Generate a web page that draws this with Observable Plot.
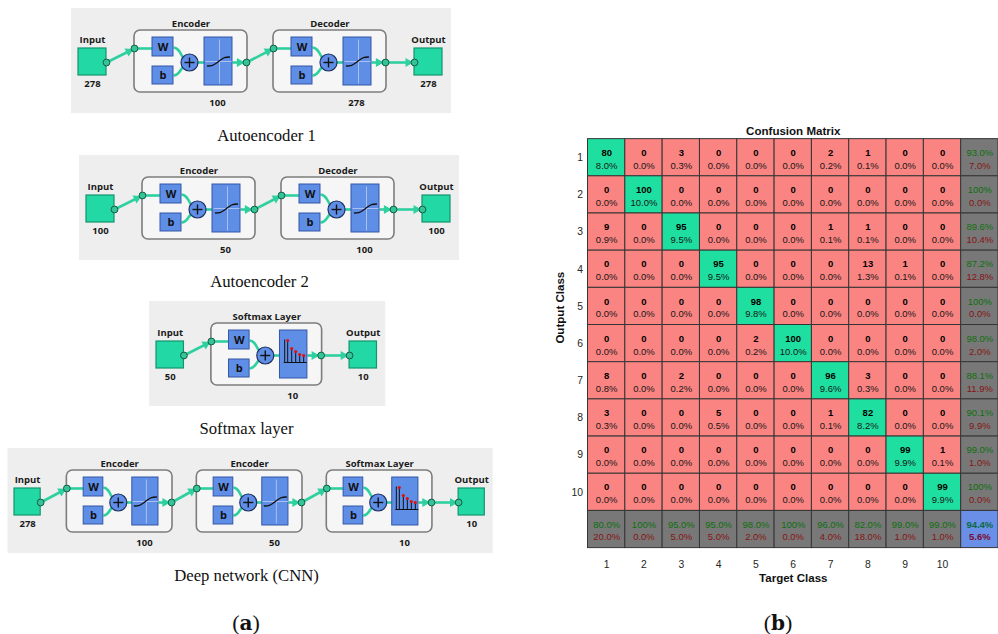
<!DOCTYPE html>
<html>
<head>
<meta charset="utf-8">
<script src="https://cdn.jsdelivr.net/npm/d3@7"></script>
<script src="https://cdn.jsdelivr.net/npm/@observablehq/plot@0.6"></script>
<style>
  html, body { margin: 0; padding: 0; background: #fff; }
  #page { position: relative; width: 998px; height: 634px; overflow: hidden; background: #fff; }
  #nets { position: absolute; left: 0; top: 0; }
  #cm { position: absolute; left: 548px; top: 109px; }
  .tag { position: absolute; top: 608px; width: 60px; margin-left: -30px; text-align: center;
         font: 22px "Liberation Serif", "Times New Roman", serif; line-height: 30px; color: #111; }
  .tag b { font-family: "DejaVu Serif", "Liberation Serif", serif; font-size: 20px; }
</style>
</head>
<body>
<div id="page">
  <div id="nets"></div>
  <div id="cm"></div>
  <div class="tag" style="left:246px">(<b>a</b>)</div>
  <div class="tag" style="left:778px">(<b>b</b>)</div>
</div>
<script>
// ---- Network diagrams: one entry per diagram ----
const captions = ["Autoencoder 1", "Autoencoder 2", "Softmax layer", "Deep network (CNN)"];
const inputSizes = [278, 100, 50, 278];
const layerNames = [["Encoder", "Decoder"], ["Encoder", "Decoder"], ["Softmax Layer"], ["Encoder", "Encoder", "Softmax Layer"]];
const layerSizes = [[100, 278], [50, 100], [10], [100, 50, 10]];
const outputSizes = [278, 100, 10, 10];

// ---- Confusion matrix: rows = output class, columns = target class ----
const classes = ["1", "2", "3", "4", "5", "6", "7", "8", "9", "10"];
const counts = [
  [80, 0, 3, 0, 0, 0, 2, 1, 0, 0],
  [0, 100, 0, 0, 0, 0, 0, 0, 0, 0],
  [9, 0, 95, 0, 0, 0, 1, 1, 0, 0],
  [0, 0, 0, 95, 0, 0, 0, 13, 1, 0],
  [0, 0, 0, 0, 98, 0, 0, 0, 0, 0],
  [0, 0, 0, 0, 2, 100, 0, 0, 0, 0],
  [8, 0, 2, 0, 0, 0, 96, 3, 0, 0],
  [3, 0, 0, 5, 0, 0, 1, 82, 0, 0],
  [0, 0, 0, 0, 0, 0, 0, 0, 99, 1],
  [0, 0, 0, 0, 0, 0, 0, 0, 0, 99]
];

// ---------------------------------------------------------------
// Diagram layout (pixels): input block left edge, layer box top, horizontal scale, caption centre
const frames = [
  {left: 78, top: 30, sx: 1, capX: 266, capY: 135},
  {left: 86, top: 177, sx: 1, capX: 259, capY: 281},
  {left: 156, top: 323, sx: 0.98, capX: 246, capY: 428},
  {left: 14, top: 470, sx: 0.935, capX: 246, capY: 575}
];
const STEP = 139, BOX_W = 113, BOX_H = 62, BLOCK = 28;
const sigmoidShape = [[-11, 4.5], [-6, 3.8], [-2, 1.5], [2, -1.5], [6, -3.8], [11, -4.5]];
const stemTops = [[-6, -14], [-2, -6], [2, -3], [6, 0], [10, 1]];

const bg = [], boxes = [], blocks = [], blues = [], wires = [], bends = [], heads = [],
      nodes = [], sums = [], plusBars = [], cross = [], curves = [], stems = [], redDots = [], labels = [], caps = [];

frames.forEach((f, k) => {
  const X = r => f.left + r * f.sx, Y = r => f.top + r;
  const n = layerNames[k].length;
  const outL = 56 + (n - 1) * STEP + BOX_W + 28;
  const arrow = (ax, ay, bx, by, t) => {
    wires.push({x1: ax, y1: ay, x2: bx, y2: by});
    heads.push({x: ax + (bx - ax) * t, y: ay + (by - ay) * t, a: 90 + Math.atan2(by - ay, bx - ax) * 180 / Math.PI});
  };
  bg.push({x1: X(-7), x2: X(outL + BLOCK + 9), y1: Y(-22), y2: Y(83)});
  blocks.push({x1: X(0), x2: X(BLOCK), y1: Y(18), y2: Y(45)});
  blocks.push({x1: X(outL), x2: X(outL + BLOCK), y1: Y(18), y2: Y(45)});
  labels.push({x: X(14), y: Y(9), t: "Input"}, {x: X(outL + 14), y: Y(9), t: "Output"});
  labels.push({x: X(14), y: Y(53), t: String(inputSizes[k])}, {x: X(outL + 14), y: Y(53), t: String(outputSizes[k])});
  caps.push({x: f.capX, y: f.capY, t: captions[k]});
  nodes.push({x: X(BLOCK), y: Y(32)});

  layerNames[k].forEach((name, i) => {
    const x0 = 56 + i * STEP;
    boxes.push({x1: X(x0), x2: X(x0 + BOX_W), y1: Y(0), y2: Y(BOX_H)});
    labels.push({x: X(x0 + 56.5), y: Y(-7), t: name});
    labels.push({x: X(x0 + 83), y: Y(72), t: String(layerSizes[k][i])});
    const from = i === 0 ? BLOCK : x0 - STEP + 112;
    arrow(X(from), Y(32), X(x0), Y(18), 0.8);
    nodes.push({x: X(x0), y: Y(18)});
    wires.push({x1: X(x0), y1: Y(18), x2: X(x0 + 18), y2: Y(18)});
    blues.push({x1: X(x0 + 18), x2: X(x0 + 39), y1: Y(7), y2: Y(26), t: "W"});
    blues.push({x1: X(x0 + 18), x2: X(x0 + 39), y1: Y(36), y2: Y(54), t: "b"});
    bends.push({x1: X(x0 + 39), y1: Y(17), x2: X(x0 + 55), y2: Y(32)});
    bends.push({x1: X(x0 + 39), y1: Y(45), x2: X(x0 + 55), y2: Y(32)});
    const px = X(x0 + 55), py = Y(32);
    sums.push({x: px, y: py});
    plusBars.push({x1: px - 5, y1: py, x2: px + 5, y2: py}, {x1: px, y1: py - 5, x2: px, y2: py + 5});
    wires.push({x1: X(x0 + 55), y1: Y(32), x2: X(x0 + 70), y2: Y(32)});
    blues.push({x1: X(x0 + 70), x2: X(x0 + 98), y1: Y(7), y2: Y(55), t: ""});
    arrow(X(x0 + 98), Y(32), X(x0 + 112), Y(32), 0.5);
    nodes.push({x: X(x0 + 112), y: Y(32)});
    const cx = X(x0 + 84), cy = Y(31);
    const id = `${k}-${i}`;
    if (name.startsWith("Softmax")) {
      stems.push({x1: cx - 9, y1: cy - 15, x2: cx - 9, y2: cy + 8});
      stems.push({x1: cx - 10, y1: cy + 8, x2: cx + 13, y2: cy + 8});
      stemTops.forEach(([dx, dy]) => {
        stems.push({x1: cx + dx, y1: cy + 8, x2: cx + dx, y2: cy + dy});
        redDots.push({x: cx + dx, y: cy + dy});
      });
    } else {
      cross.push({x1: cx + 1, y1: cy - 22, x2: cx + 1, y2: cy + 22});
      cross.push({x1: cx - 13, y1: cy, x2: cx + 13, y2: cy});
      sigmoidShape.forEach(([dx, dy]) => curves.push({id, x: cx + dx, y: cy + dy}));
    }
  });
  arrow(X(56 + (n - 1) * STEP + 112), Y(32), X(outL), Y(32), 0.78);
  nodes.push({x: X(outL), y: Y(32)});
});

const TEAL = "#2fd0a0";
const netPlot = Plot.plot({
  width: 545, height: 634, margin: 0,
  x: {domain: [0, 545], range: [0, 545], axis: null},
  y: {domain: [0, 634], range: [0, 634], axis: null},
  style: {background: "transparent", fontFamily: "'Open Sans', 'DejaVu Sans', sans-serif"},
  marks: [
    Plot.rect(bg, {x1: "x1", x2: "x2", y1: "y1", y2: "y2", fill: "#eeeeee"}),
    Plot.rect(boxes, {x1: "x1", x2: "x2", y1: "y1", y2: "y2", fill: "#f6f6f6", stroke: "#7d7d7d", strokeWidth: 1.6, rx: 6}),
    Plot.link(wires, {x1: "x1", y1: "y1", x2: "x2", y2: "y2", stroke: TEAL, strokeWidth: 2.6}),
    Plot.link(bends, {x1: "x1", y1: "y1", x2: "x2", y2: "y2", stroke: TEAL, strokeWidth: 2.6, curve: "bump-x"}),
    Plot.rect(blocks, {x1: "x1", x2: "x2", y1: "y1", y2: "y2", fill: "#22d8a4", stroke: "#15946f", strokeWidth: 1.2}),
    Plot.rect(blues, {x1: "x1", x2: "x2", y1: "y1", y2: "y2", fill: "#5f8ee6", stroke: "#3557a6", strokeWidth: 1}),
    Plot.text(blues, {x: d => (d.x1 + d.x2) / 2, y: d => (d.y1 + d.y2) / 2, text: "t", fontWeight: "bold", fontSize: 11, fill: "#111"}),
    Plot.link(cross, {x1: "x1", y1: "y1", x2: "x2", y2: "y2", stroke: "#a9c0f0", strokeWidth: 1}),
    Plot.line(curves, {x: "x", y: "y", z: "id", curve: "monotone-x", stroke: "#111", strokeWidth: 1.3}),
    Plot.link(stems, {x1: "x1", y1: "y1", x2: "x2", y2: "y2", stroke: "#111", strokeWidth: 1}),
    Plot.dot(redDots, {x: "x", y: "y", r: 1.6, fill: "#e01010"}),
    Plot.dot(sums, {x: "x", y: "y", r: 8.5, fill: "#5f8ee6", stroke: "#1e2f60", strokeWidth: 1.2}),
    Plot.link(plusBars, {x1: "x1", y1: "y1", x2: "x2", y2: "y2", stroke: "#111", strokeWidth: 1.4}),
    Plot.dot(heads, {x: "x", y: "y", rotate: "a", symbol: "triangle", r: 3.4, fill: TEAL}),
    Plot.dot(nodes, {x: "x", y: "y", r: 3.4, fill: "#34c496", stroke: "#145c46", strokeWidth: 1}),
    Plot.text(labels, {x: "x", y: "y", text: "t", fontWeight: "bold", fontSize: 9.5, fill: "#1a1a1a"}),
    Plot.text(caps, {x: "x", y: "y", text: "t", fontSize: 16.7, fill: "#111",
                     fontFamily: "'Liberation Serif', 'Times New Roman', serif"})
  ]
});
document.getElementById("nets").append(netPlot);

// ---------------------------------------------------------------
// Confusion matrix with row (precision) and column (recall) summaries
const ALL = "all";
const keys = [...classes, ALL];
const total = d3.sum(counts.flat());
const pct = p => (Math.abs(p * 100 - 100) < 1e-9 ? "100%" : (p * 100).toFixed(1) + "%");
const palette = {hit: "#1fdfa0", miss: "#fa8482", sum: "#787878", all: "#6a8fe6"};

const inner = [], margins = [];
counts.forEach((row, r) => row.forEach((v, c) =>
  inner.push({row: classes[r], col: classes[c], kind: r === c ? "hit" : "miss", top: String(v), bottom: pct(v / total)})));
counts.forEach((row, r) => {
  const ok = row[r] / d3.sum(row);
  margins.push({row: classes[r], col: ALL, kind: "sum", top: pct(ok), bottom: pct(1 - ok)});
});
classes.forEach((_, c) => {
  const colSum = d3.sum(counts, row => row[c]);
  const ok = counts[c][c] / colSum;
  margins.push({row: ALL, col: classes[c], kind: "sum", top: pct(ok), bottom: pct(1 - ok)});
});
const hits = d3.sum(classes, (_, i) => counts[i][i]);
const overall = [{row: ALL, col: ALL, kind: "all", top: pct(hits / total), bottom: pct(1 - hits / total)}];
const cells = [...inner, ...margins, ...overall];

const CW = 37.78, CH = 37.64;
const cellFont = "'Liberation Sans', Arial, Helvetica, sans-serif";
const cmPlot = Plot.plot({
  width: 40 + 11 * CW, height: 30 + 11 * CH + 50,
  marginLeft: 40, marginRight: 0, marginTop: 30, marginBottom: 50,
  style: {background: "transparent", fontFamily: cellFont, fontSize: "10.5px", color: "#262626"},
  color: {type: "identity"},
  x: {domain: keys, padding: 0, round: false, tickSize: 0, tickPadding: 13, label: null, tickFormat: d => (d === ALL ? "" : d)},
  y: {domain: keys, padding: 0, round: false, tickSize: 0, tickPadding: 5, label: null, tickFormat: d => (d === ALL ? "" : d)},
  marks: [
    Plot.cell(cells, {x: "col", y: "row", fill: d => palette[d.kind], stroke: "#353535", strokeWidth: 1, inset: 0}),
    Plot.text(inner, {x: "col", y: "row", text: "top", dy: -5, fontWeight: "bold", fontSize: 9.6, fill: "#000"}),
    Plot.text(inner, {x: "col", y: "row", text: "bottom", dy: 8, fontSize: 9.6, fill: "#161616"}),
    Plot.text(margins, {x: "col", y: "row", text: "top", dy: -5, fontSize: 9.6, fill: "#0c700c"}),
    Plot.text(margins, {x: "col", y: "row", text: "bottom", dy: 8, fontSize: 9.6, fill: "#861414"}),
    Plot.text(overall, {x: "col", y: "row", text: "top", dy: -5, fontSize: 9.6, fontWeight: "bold", fill: "#0a6a45"}),
    Plot.text(overall, {x: "col", y: "row", text: "bottom", dy: 8, fontSize: 9.6, fontWeight: "bold", fill: "#7a0c35"}),
    Plot.text(["Confusion Matrix"], {frameAnchor: "top", lineAnchor: "middle", dy: -8, fontWeight: "bold", fontSize: 11.7, fill: "#111"}),
    Plot.text(["Target Class"], {frameAnchor: "bottom", lineAnchor: "middle", dy: 31, fontWeight: "bold", fontSize: 11.7, fill: "#111"}),
    Plot.text(["Output Class"], {frameAnchor: "left", lineAnchor: "middle", dx: -28, rotate: -90, fontWeight: "bold", fontSize: 11.7, fill: "#111"})
  ]
});
document.getElementById("cm").append(cmPlot);
</script>
</body>
</html>
